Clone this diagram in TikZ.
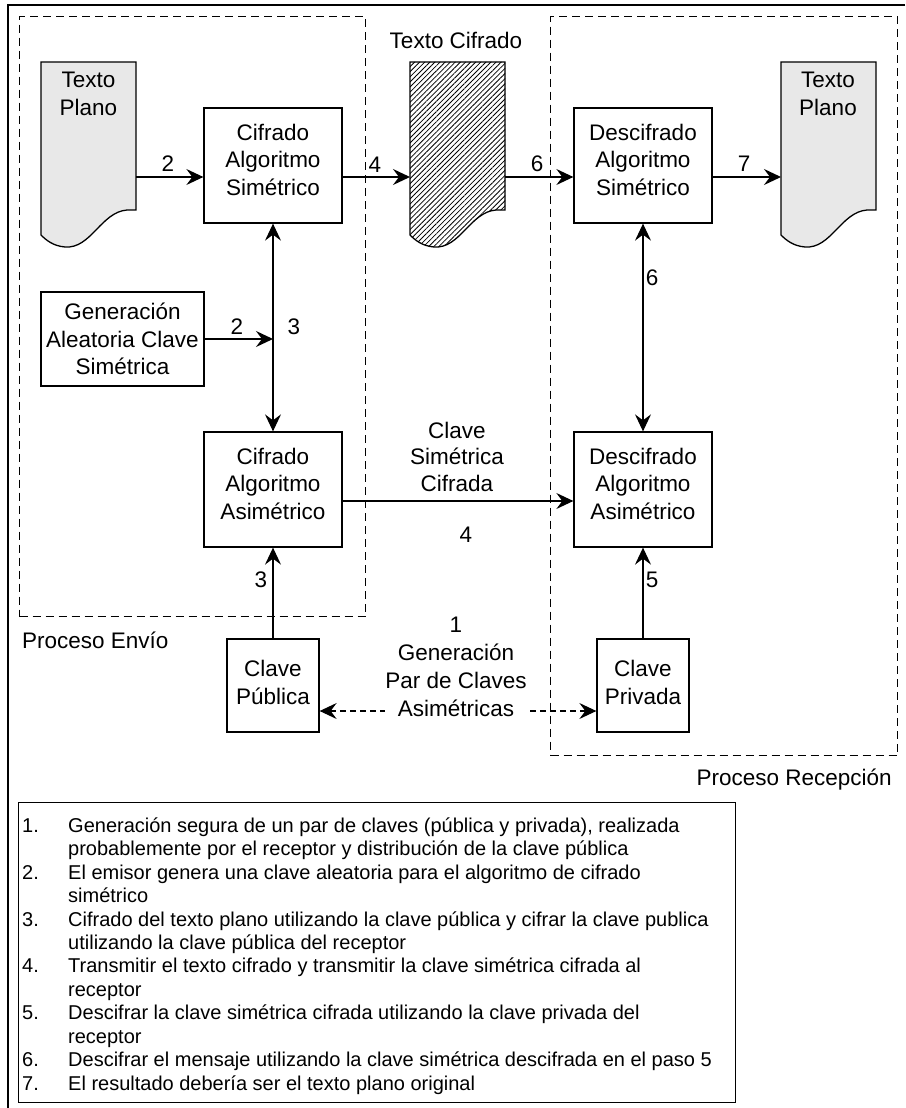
\documentclass[tikz,border=0pt]{standalone}
\usepackage{fontspec}
\setmainfont{Liberation Sans}
\usetikzlibrary{arrows.meta,patterns.meta}
\definecolor{docgray}{RGB}{232,232,232}
\newcommand\dfont{\fontsize{22.5}{27.5}\selectfont}
\newcommand\legf{\fontsize{20}{23.45}\selectfont}
\begin{document}
\begin{tikzpicture}[x=1pt,y=-1pt,
  lw/.style={line width=1.3pt},
  box/.style={draw, lw, minimum width=138pt, minimum height=115pt, align=center, inner sep=0pt, font=\dfont, text depth=12pt},
  smallbox/.style={draw, lw, minimum width=92pt, minimum height=93pt, align=center, inner sep=0pt, font=\dfont, text depth=6pt},
  lbl/.style={inner sep=0pt, align=center, font=\dfont},
  dashbox/.style={draw, line width=1.3pt, dash pattern=on 8pt off 5pt, inner sep=0pt},
  tip/.tip={Stealth[length=17pt,width=16pt,inset=6pt]},
  arr/.style={lw, -tip},
  dbl/.style={lw, tip-tip},
  dasharr/.style={line width=1.2pt, dash pattern=on 6pt off 4pt, tip-tip},
  docplain/.pic={
    \path[draw, fill=docgray, line width=1.3pt] (0,0) -- (95,0) -- (95,148) -- (86,148)
      .. controls (60,150) and (50,187) .. (24,185)
      .. controls (12,184) and (5,178) .. (0,173) -- cycle;
    \node[inner sep=0pt, minimum width=95pt, minimum height=148pt, anchor=north west] (-box) at (0,0) {};
  },
  dochatch/.pic={
    \path[draw, fill=white, line width=1.3pt] (0,0) -- (95,0) -- (95,148) -- (86,148)
      .. controls (60,150) and (50,187) .. (24,185)
      .. controls (12,184) and (5,178) .. (0,173) -- cycle;
    \path[pattern={Lines[angle=45,distance=3.6pt,line width=0.8pt]}, pattern color=black] (0,0) -- (95,0) -- (95,148) -- (86,148)
      .. controls (60,150) and (50,187) .. (24,185)
      .. controls (12,184) and (5,178) .. (0,173) -- cycle;
    \node[inner sep=0pt, minimum width=95pt, minimum height=148pt, anchor=north west] (-box) at (0,0) {};
  }
]
\useasboundingbox (0,0) rectangle (905,1108);
% outer frame (cropped)
\coordinate (frameTL) at (8,5);
\coordinate (frameTR) at (905,5);
\coordinate (frameBL) at (8,1108);
\draw[lw] (frameTR) -- (frameTL) -- (frameBL);

% process regions
\node[dashbox, minimum width=346pt, minimum height=600pt, anchor=north west] (envio) at (19,16) {};
\node[dashbox, minimum width=347pt, minimum height=739pt, anchor=north west] (recep) at (550,16) {};
\node[lbl, anchor=west] (envioL) at (22,640) {Proceso Envío};
\node[lbl, anchor=east] (recepL) at (892,780) {Proceso Recepción};

% documents
\pic (tpl) at (41,62) {docplain};
\pic (tc) at (410,62) {dochatch};
\pic (tpr) at (781,62) {docplain};
\node[lbl] (tplT) at (88.5,94) {Texto\\Plano};
\node[lbl] (tprT) at (828,94) {Texto\\Plano};
\node[lbl] (tcT) at (456,40) {Texto Cifrado};

% boxes
\node[box] (cs) at (273,165.5) {Cifrado\\Algoritmo\\Simétrico};
\node[box] (ds) at (643,165.5) {Descifrado\\Algoritmo\\Simétrico};
\node[box] (ca) at (273,489.5) {Cifrado\\Algoritmo\\Asimétrico};
\node[box] (da) at (643,489.5) {Descifrado\\Algoritmo\\Asimétrico};
\node[draw, lw, minimum width=163pt, minimum height=94pt, align=center, inner sep=0pt, font=\dfont] (gen) at (122.5,339) {Generación\\Aleatoria Clave\\Simétrica};
\node[smallbox] (pub) at (273,685.5) {Clave\\Pública};
\node[smallbox] (priv) at (643,685.5) {Clave\\Privada};

% rows
\coordinate (rowA) at (0,177);
\coordinate (rowB) at (0,501);
\coordinate (rowC) at (0,711);

% connectors
\draw[arr] (tpl-box.east |- rowA) -- (cs.west |- rowA);
\draw[arr] (cs.east |- rowA) -- (tc-box.west |- rowA);
\draw[arr] (tc-box.east |- rowA) -- (ds.west |- rowA);
\draw[arr] (ds.east |- rowA) -- (tpr-box.west |- rowA);
\draw[dbl] (cs.south) -- (ca.north);
\draw[arr] (gen.east) -- (gen.east -| ca.north);
\draw[dbl] (ds.south) -- (da.north);
\draw[arr] (ca.east |- rowB) -- (da.west |- rowB);
\draw[arr] (pub.north) -- (ca.south);
\draw[arr] (priv.north) -- (da.south);
\draw[dasharr] (pub.east |- rowC) -- (priv.west |- rowC);

% connector labels
\node[lbl] (n2a) at (168,164) {2};
\node[lbl] (n4a) at (375,165) {4};
\node[lbl] (n6a) at (537,164) {6};
\node[lbl] (n7a) at (744,164) {7};
\node[lbl] (n3a) at (294,327) {3};
\node[lbl] (n2b) at (237,327) {2};
\node[lbl] (n6b) at (652,278) {6};
\node[lbl, font=\fontsize{22.5}{26.5}\selectfont] (csc) at (457,456.5) {Clave\\Simétrica\\Cifrada};
\node[lbl] (n4b) at (466,535) {4};
\node[lbl] (n3b) at (261,580) {3};
\node[lbl] (n5) at (652,580) {5};
\node[lbl, fill=white, font=\fontsize{22.5}{28}\selectfont] (genpar) at (456,667) {1\\Generación\\Par de Claves\\Asimétricas};

% legend
\node[draw, lw, minimum width=717pt, minimum height=300pt, anchor=north west, inner sep=0pt] (legend) at (18,802) {};
\node[anchor=north west, inner sep=0pt, font=\legf] (legtext) at (22,815.6) {%
\begin{tabular}{@{}l@{}l@{}}
\makebox[46pt][l]{1.} & Generación segura de un par de claves (pública y privada), realizada\\
 & probablemente por el receptor y distribución de la clave pública\\
\makebox[46pt][l]{2.} & El emisor genera una clave aleatoria para el algoritmo de cifrado\\
 & simétrico\\
\makebox[46pt][l]{3.} & Cifrado del texto plano utilizando la clave pública y cifrar la clave publica\\
 & utilizando la clave pública del receptor\\
\makebox[46pt][l]{4.} & Transmitir el texto cifrado y transmitir la clave simétrica cifrada al\\
 & receptor\\
\makebox[46pt][l]{5.} & Descifrar la clave simétrica cifrada utilizando la clave privada del\\
 & receptor\\
\makebox[46pt][l]{6.} & Descifrar el mensaje utilizando la clave simétrica descifrada en el paso 5\\
\makebox[46pt][l]{7.} & El resultado debería ser el texto plano original
\end{tabular}};
\end{tikzpicture}
\end{document}
